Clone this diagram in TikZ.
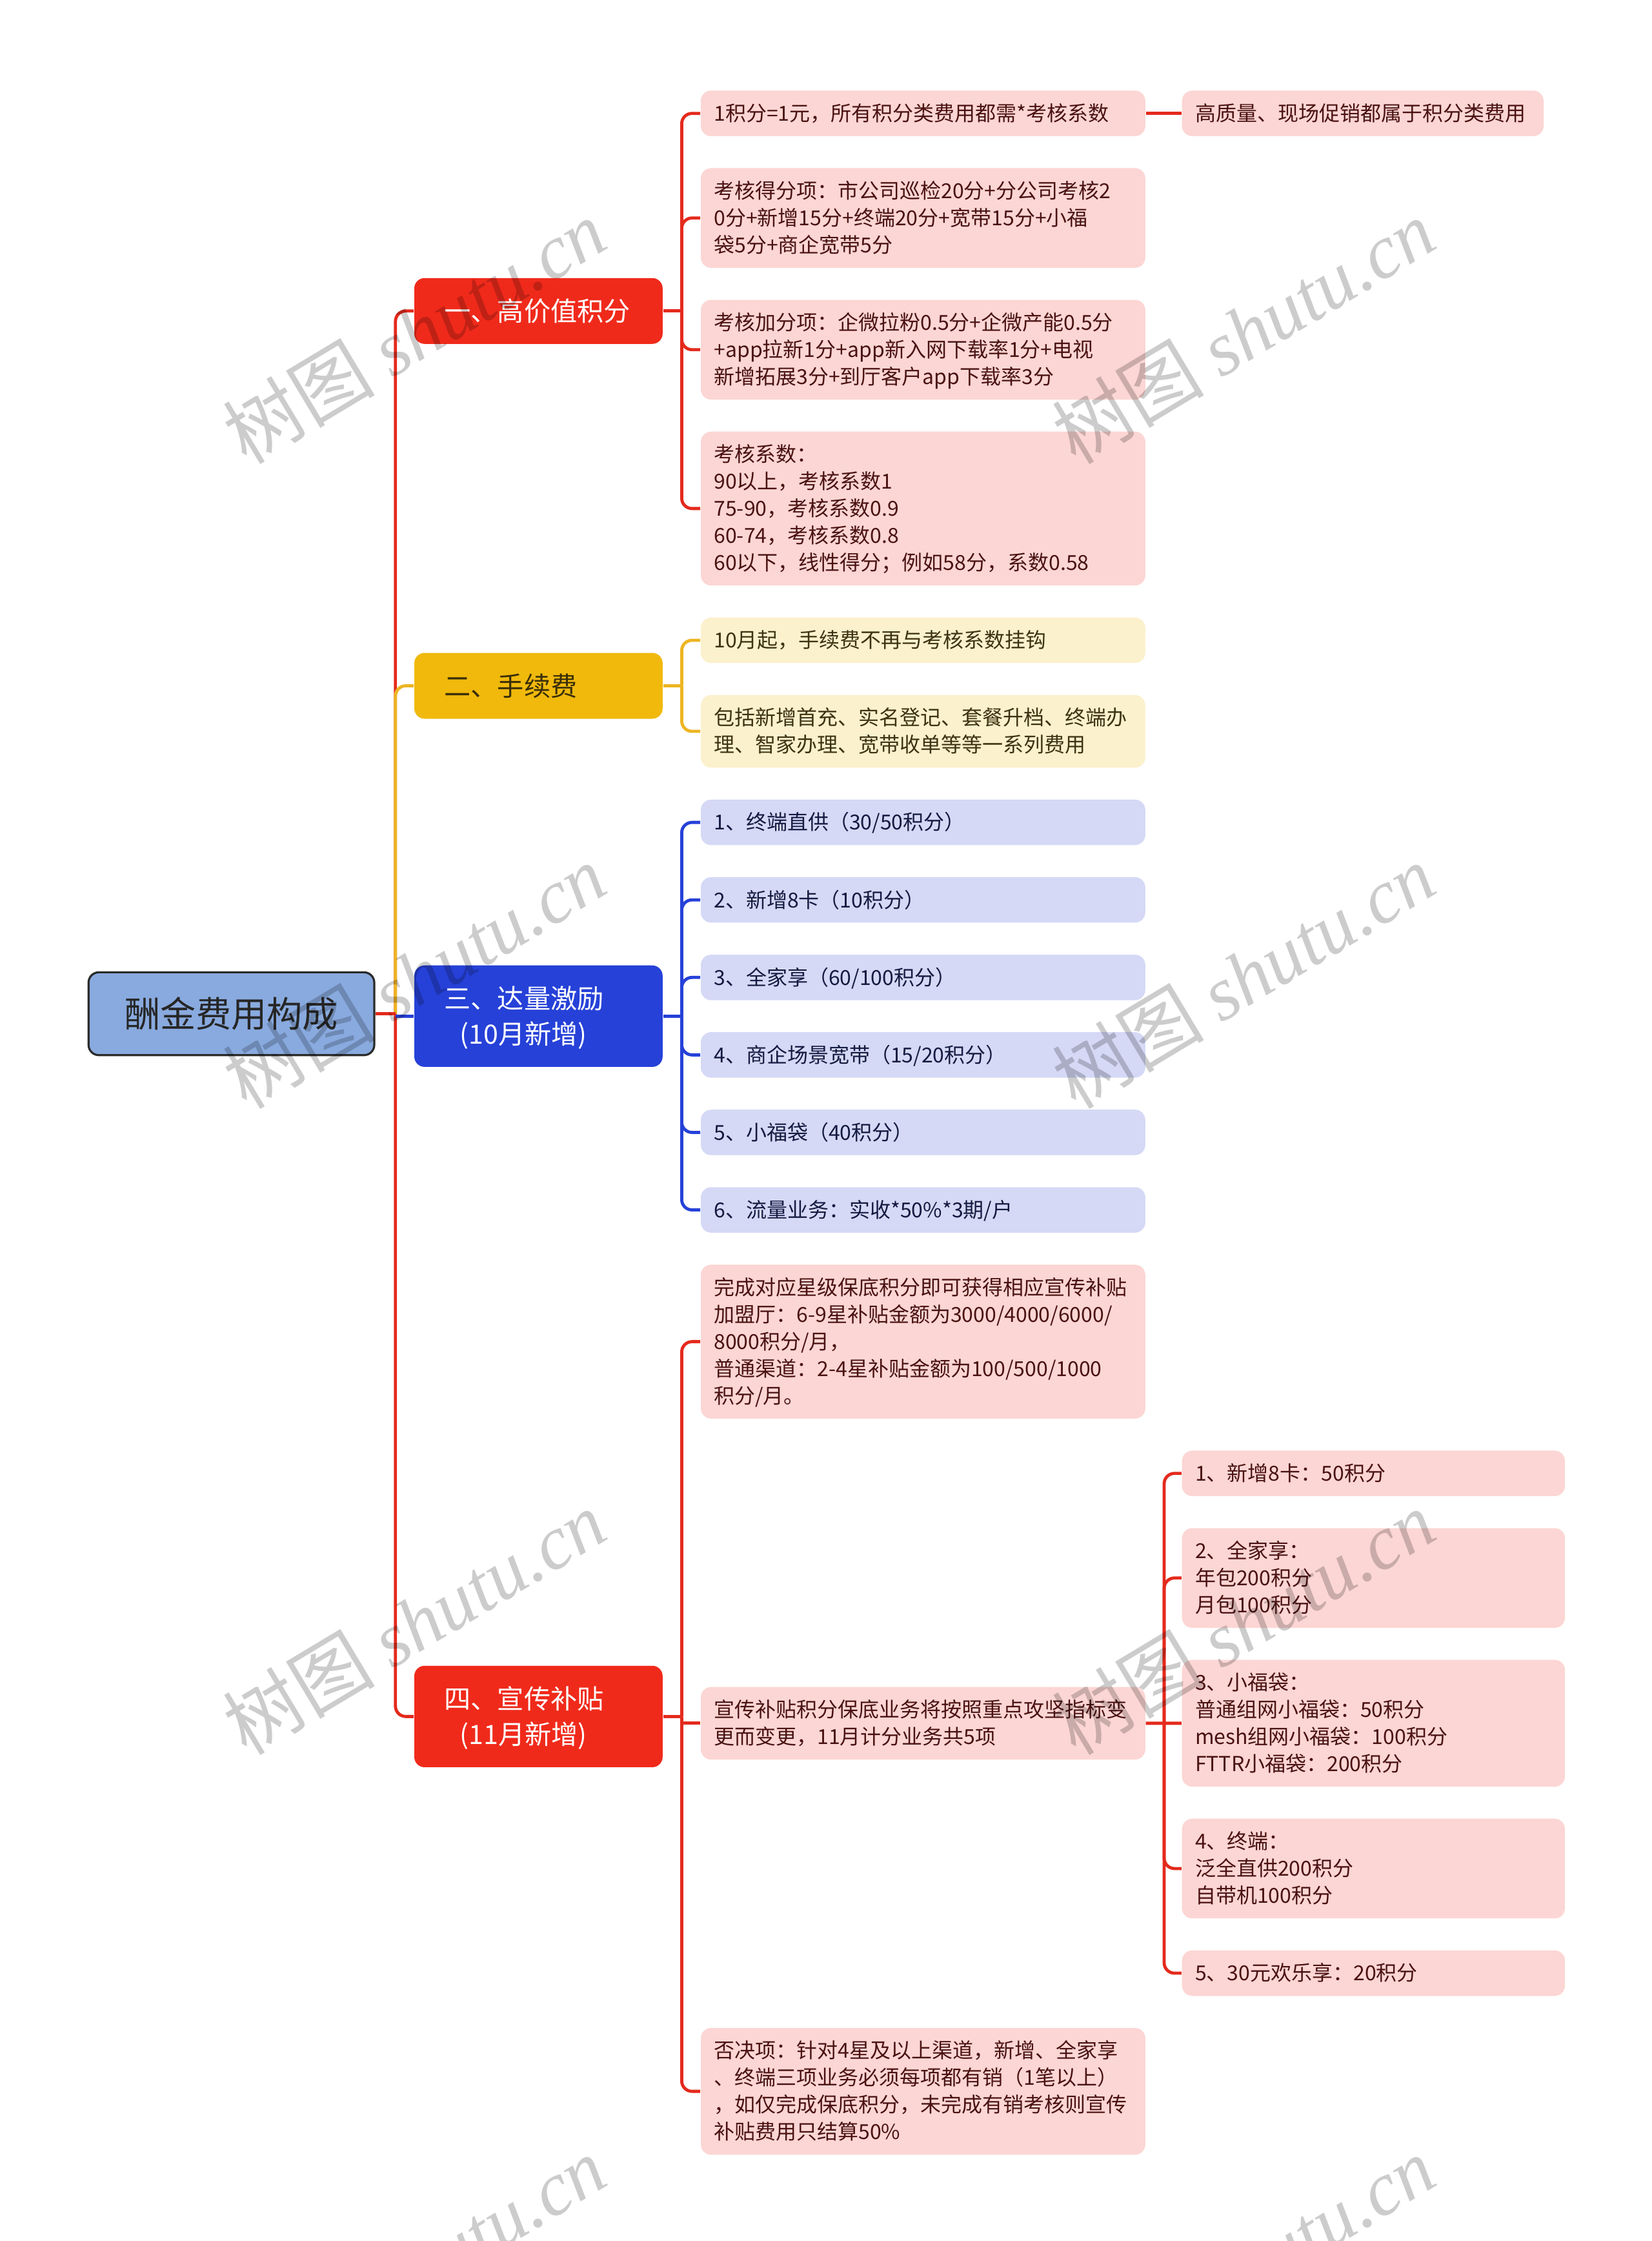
\documentclass[tikz,border=0pt]{standalone}
\usepackage{fontspec}
\setmainfont{Noto Sans CJK SC}
\newfontfamily\markfont{Liberation Serif}
\usepackage{tikz}
\usetikzlibrary{positioning,calc}

\definecolor{rootfill}{HTML}{89AADF}
\definecolor{rootline}{HTML}{2B2B2B}
\definecolor{roottext}{HTML}{262626}
\definecolor{redfill}{HTML}{F02A1B}
\definecolor{yellowfill}{HTML}{F0B90C}
\definecolor{yellowtext}{HTML}{3A2F08}
\definecolor{bluefill}{HTML}{2641D8}
\definecolor{pinkfill}{HTML}{FCD6D4}
\definecolor{pinktext}{HTML}{4A1212}
\definecolor{creamfill}{HTML}{FCF1CD}
\definecolor{creamtext}{HTML}{3D3312}
\definecolor{lilacfill}{HTML}{D5D9F6}
\definecolor{lilactext}{HTML}{141A40}
\definecolor{redline}{HTML}{E42A1D}
\definecolor{yellowline}{HTML}{EDB522}
\definecolor{blueline}{HTML}{2641D8}

\newcommand{\leafstrut}{\rule[-2.3pt]{0pt}{10.5pt}}
\newcommand{\branchstrut}{\rule[-3pt]{0pt}{13.8pt}}
\newcommand{\topstrut}{\rule[-3.8pt]{0pt}{18pt}}

\tikzset{
  rootbox/.style={draw=rootline, line width=0.8pt, fill=rootfill, text=roottext, rounded corners=4pt,
                  minimum width=110.7pt, inner xsep=4pt, inner ysep=7.05pt, align=center,
                  font=\fontsize{13.8pt}{18pt}\selectfont,
                  execute at begin node=\topstrut, execute at end node=\topstrut},
  branchbox/.style={rounded corners=4pt, text width=73pt, inner xsep=11.6pt, inner ysep=5.85pt, align=left,
                    font=\fontsize{10.3pt}{13.8pt}\selectfont,
                    execute at begin node=\branchstrut, execute at end node=\branchstrut},
  leafbox/.style={rounded corners=4pt, text width=162pt, inner xsep=5.1pt, inner ysep=3.56pt, align=left,
                  font=\fontsize{8pt}{10.5pt}\selectfont,
                  execute at begin node=\leafstrut, execute at end node=\leafstrut},
  pinkleaf/.style={leafbox, fill=pinkfill, text=pinktext},
  creamleaf/.style={leafbox, fill=creamfill, text=creamtext},
  lilacleaf/.style={leafbox, fill=lilacfill, text=lilactext},
  subleaf/.style={pinkleaf, text width=138.2pt},
  link/.style={line width=1.2pt, rounded corners=4pt},
  redlink/.style={link, draw=redline},
  yellowlink/.style={link, draw=yellowline},
  bluelink/.style={link, draw=blueline},
  wmark/.style={text=black, text opacity=0.2, rotate=31, font=\fontsize{29.5pt}{29.5pt}\selectfont},
}

\begin{document}
\begin{tikzpicture}[node distance=12pt]
  \path[use as bounding box, fill=white] (0,0) rectangle (640pt,-868pt);

  % leaves, stacked top to bottom
  \node[pinkleaf, anchor=north west] (l1a) at (271.3pt,-34.9pt) {1积分=1元，所有积分类费用都需*考核系数};
  \node[pinkleaf, right=13.8pt of l1a, text width=129.9pt] (l1e) {高质量、现场促销都属于积分类费用};
  \node[pinkleaf, below=of l1a] (l1b) {考核得分项：市公司巡检20分+分公司考核2\\0分+新增15分+终端20分+宽带15分+小福\\袋5分+商企宽带5分};
  \node[pinkleaf, below=of l1b] (l1c) {考核加分项：企微拉粉0.5分+企微产能0.5分\\+app拉新1分+app新入网下载率1分+电视\\新增拓展3分+到厅客户app下载率3分};
  \node[pinkleaf, below=of l1c] (l1d) {考核系数：\\90以上，考核系数1\\75-90，考核系数0.9\\60-74，考核系数0.8\\60以下，线性得分；例如58分，系数0.58};
  \node[creamleaf, below=of l1d] (l2a) {10月起，手续费不再与考核系数挂钩};
  \node[creamleaf, below=of l2a] (l2b) {包括新增首充、实名登记、套餐升档、终端办\\理、智家办理、宽带收单等等一系列费用};
  \node[lilacleaf, below=of l2b] (l3a) {1、终端直供（30/50积分）};
  \node[lilacleaf, below=of l3a] (l3b) {2、新增8卡（10积分）};
  \node[lilacleaf, below=of l3b] (l3c) {3、全家享（60/100积分）};
  \node[lilacleaf, below=of l3c] (l3d) {4、商企场景宽带（15/20积分）};
  \node[lilacleaf, below=of l3d] (l3e) {5、小福袋（40积分）};
  \node[lilacleaf, below=of l3e] (l3f) {6、流量业务：实收*50\%*3期/户};
  \node[pinkleaf, below=of l3f] (l4a) {完成对应星级保底积分即可获得相应宣传补贴\\加盟厅：6-9星补贴金额为3000/4000/6000/\\8000积分/月，\\普通渠道：2-4星补贴金额为100/500/1000\\积分/月。};

  % items counted in November
  \node[subleaf, anchor=north west] (c1) at ($(l4a.south east)+(13.8pt,-12pt)$) {1、新增8卡：50积分};
  \node[subleaf, below=of c1] (c2) {2、全家享：\\年包200积分\\月包100积分};
  \node[subleaf, below=of c2] (c3) {3、小福袋：\\普通组网小福袋：50积分\\mesh组网小福袋：100积分\\FTTR小福袋：200积分};
  \node[subleaf, below=of c3] (c4) {4、终端：\\泛全直供200积分\\自带机100积分};
  \node[subleaf, below=of c4] (c5) {5、30元欢乐享：20积分};
  \coordinate (m5) at ($(c1.west)!0.5!(c5.west)$);
  \node[pinkleaf, left=13.8pt of m5] (l4b) {宣传补贴积分保底业务将按照重点攻坚指标变\\更而变更，11月计分业务共5项};
  \node[pinkleaf, anchor=north] (l4c) at ($(c5.south -| l4a)+(0,-12pt)$) {否决项：针对4星及以上渠道，新增、全家享\\、终端三项业务必须每项都有销（1笔以上）\\，如仅完成保底积分，未完成有销考核则宣传\\补贴费用只结算50\%};

  % branches, centred on their leaves
  \coordinate (m1) at ($(l1a.west)!0.5!(l1d.west)$);
  \coordinate (m2) at ($(l2a.west)!0.5!(l2b.west)$);
  \coordinate (m3) at ($(l3a.west)!0.5!(l3f.west)$);
  \coordinate (m4) at ($(l4a.west)!0.5!(l4c.west)$);
  \node[branchbox, fill=redfill, text=white, left=14.4pt of m1] (b1) {一、高价值积分};
  \node[branchbox, fill=yellowfill, text=yellowtext, left=14.4pt of m2] (b2) {二、手续费};
  \node[branchbox, fill=bluefill, text=white, left=14.4pt of m3] (b3) {三、达量激励\\\hspace*{6pt}(10月新增)};
  \node[branchbox, fill=redfill, text=white, left=14.4pt of m4] (b4) {四、宣传补贴\\\hspace*{6pt}(11月新增)};
  \coordinate (m0) at ($(b1.west)!0.5!(b4.west)$);
  \node[rootbox, left=14.9pt of m0] (root) {酬金费用构成};

  % connectors
  \coordinate (j0) at ($(root.east)+(7.8pt,0)$);
  \draw[redlink] (j0) |- (b1.west);
  \draw[redlink] (j0) |- (b4.west);
  \draw[yellowlink] (j0) |- (b2.west);
  \draw[bluelink] (j0 |- b3.west) -- (b3.west);
  \draw[redlink] (root.east) -- (j0);

  \coordinate (j1) at ($(b1.east)+(7.2pt,0)$);
  \draw[redlink] (b1.east) -- (j1);
  \foreach \n in {l1a,l1b,l1c,l1d} \draw[redlink] (j1) |- (\n.west);
  \draw[redlink] (l1a.east) -- (l1e.west);

  \coordinate (j2) at ($(b2.east)+(7.2pt,0)$);
  \draw[yellowlink] (b2.east) -- (j2);
  \foreach \n in {l2a,l2b} \draw[yellowlink] (j2) |- (\n.west);

  \coordinate (j3) at ($(b3.east)+(7.2pt,0)$);
  \draw[bluelink] (b3.east) -- (j3);
  \foreach \n in {l3a,l3b,l3c,l3d,l3e,l3f} \draw[bluelink] (j3) |- (\n.west);

  \coordinate (j4) at ($(b4.east)+(7.2pt,0)$);
  \draw[redlink] (b4.east) -- (j4);
  \foreach \n in {l4a,l4c} \draw[redlink] (j4) |- (\n.west);
  \draw[redlink] (j4 |- l4b.west) -- (l4b.west);

  \coordinate (j5) at ($(l4b.east)+(7.1pt,0)$);
  \foreach \n in {c1,c2,c4,c5} \draw[redlink] (j5) |- (\n.west);
  \draw[redlink] (l4b.east) -- (c3.west);

  % watermark
  \foreach \wx/\wy [count=\k] in {160.5/128.4, 481.6/128.4, 160.5/378.1, 481.6/378.1,
                                  160.5/628.3, 481.6/628.3, 160.5/878.6, 481.6/878.6}
    \node[wmark] (w\k) at (\wx pt,-\wy pt) {树图 {\markfont\itshape shutu.cn}};
\end{tikzpicture}
\end{document}
